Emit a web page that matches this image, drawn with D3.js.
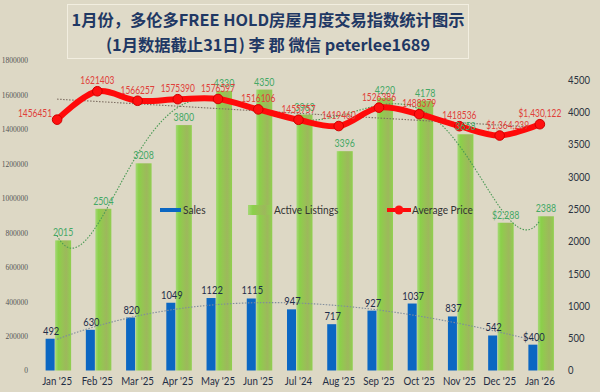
<!DOCTYPE html>
<html><head><meta charset="utf-8">
<script src="https://cdn.jsdelivr.net/npm/d3@7"></script>
<style>
html,body{margin:0;padding:0;background:#ddd8c5;}
svg{display:block;}
</style></head>
<body>
<svg id="chart" width="600" height="392"></svg>
<script>
const categories = ["Jan '25","Feb '25","Mar '25","Apr '25","May '25","Jun '25","Jul '24","Aug '25","Sep '25","Oct '25","Nov '25","Dec '25","Jan '26"];
const sales = [492,630,820,1049,1122,1115,947,717,927,1037,837,542,400];
const salesLabels = ["492","630","820","1049","1122","1115","947","717","927","1037","837","542","$400"];
const listings = [2015,2504,3208,3800,4330,4350,3963,3396,4220,4178,3658,2288,2388];
const listingLabels = ["2015","2504","3208","3800","4330","4350","3963","3396","4220","4178","3658","$2,288","2388"];
const avgPrice = [1456451,1621403,1566257,1575390,1576597,1516106,1455757,1419460,1526386,1488379,1418536,1364239,1430122];
const priceLabels = ["1456451","1621403","1566257","1575390","1576597","1516106","1455757","1419460","1526386","1488379","1418536","$1,364,239","$1,430,122"];
const leftTicks = [0,200000,400000,600000,800000,1000000,1200000,1400000,1600000,1800000];
const rightTicks = [0,500,1000,1500,2000,2500,3000,3500,4000,4500];
const titleLines = ["1月份，多伦多FREE HOLD房屋月度交易指数统计图示","(1月数据截止31日) 李 郡  微信 peterlee1689"];

const svg = d3.select("#chart");
const W = 600, H = 392;
svg.append("rect").attr("width",W).attr("height",H).attr("fill","#ddd8c5");

const defs = svg.append("defs");
const gr = defs.append("linearGradient").attr("id","gbar").attr("x1","0").attr("x2","1").attr("y1","0").attr("y2","0");
[["0%","#a6d878"],["20%","#8bd04a"],["45%","#96c453"],["70%","#9db85c"],["100%","#8fd04e"]].forEach(s=>gr.append("stop").attr("offset",s[0]).attr("stop-color",s[1]));

const x = d3.scaleBand().domain(categories).range([37,560]).padding(0);
const cx = c => x(c) + x.bandwidth()/2;
const yL = d3.scaleLinear().domain([0,1800000]).range([370.5,60.5]);
const yR = d3.scaleLinear().domain([0,4800]).range([370.5,60.5]);

function condense(sel, factor){
  sel.each(function(){
    const w = this.getComputedTextLength();
    d3.select(this).attr("textLength", w*factor).attr("lengthAdjust","spacingAndGlyphs");
  });
}

// Title box
svg.append("rect").attr("x",67.5).attr("y",4.5).attr("width",401).attr("height",54)
  .attr("fill","#dfdac8").attr("stroke","#f2eee0").attr("stroke-width",1);
svg.selectAll("text.title").data(titleLines).join("text").attr("class","title")
  .attr("x",268).attr("y",(d,i)=>26+i*25).attr("text-anchor","middle")
  .attr("font-family","'Noto Sans CJK SC','Noto Sans',sans-serif").attr("font-weight","bold")
  .attr("font-size",16.3).attr("fill","#1f3864").text(d=>d);

const lblFont = "Lato,'Open Sans',sans-serif";

// Axes
const axL = svg.append("g").attr("transform","translate(30,0)")
  .call(d3.axisLeft(yL).tickValues(leftTicks).tickSize(0).tickPadding(2).tickFormat(d3.format("d")));
axL.select(".domain").remove();
axL.selectAll("text").attr("font-family","'Liberation Serif',serif").attr("font-size",7.5).attr("fill","#555");

const axR = svg.append("g").attr("transform","translate(566,0)")
  .call(d3.axisRight(yR).tickValues(rightTicks).tickSize(0).tickPadding(2).tickFormat(d3.format("d")));
axR.select(".domain").remove();
axR.selectAll("text").attr("font-family",lblFont).attr("font-size",10.5).attr("fill","#2b3340");
condense(axR.selectAll("text"), 0.9);

const axB = svg.append("g").attr("transform","translate(0,370.5)")
  .call(d3.axisBottom(x).tickSize(0).tickPadding(7));
axB.select(".domain").remove();
axB.selectAll("text").attr("font-family",lblFont).attr("font-size",11).attr("fill","#1f2d44");
condense(axB.selectAll("text"), 0.88);

// Bars
svg.selectAll("rect.listing").data(categories).join("rect").attr("class","listing")
  .attr("x",c=>cx(c)-2).attr("width",16)
  .attr("y",(c,i)=>yR(listings[i])).attr("height",(c,i)=>yR(0)-yR(listings[i]))
  .attr("fill","url(#gbar)");
svg.selectAll("rect.sales").data(categories).join("rect").attr("class","sales")
  .attr("x",c=>cx(c)-11.5).attr("width",9)
  .attr("y",(c,i)=>yR(sales[i])).attr("height",(c,i)=>yR(0)-yR(sales[i]))
  .attr("fill","#0b67c2");

// Polynomial trendlines (least squares)
function polyfit(ys, order){
  const n = ys.length, mid=(n-1)/2, sc=mid;
  const ts = ys.map((_,i)=>(i-mid)/sc);
  const m = order+1;
  const A = Array.from({length:m},()=>new Array(m+1).fill(0));
  for(let k=0;k<n;k++){
    for(let r=0;r<m;r++){
      for(let c=0;c<m;c++) A[r][c]+=Math.pow(ts[k],r+c);
      A[r][m]+=ys[k]*Math.pow(ts[k],r);
    }
  }
  for(let i=0;i<m;i++){
    let p=i; for(let r=i+1;r<m;r++) if(Math.abs(A[r][i])>Math.abs(A[p][i])) p=r;
    [A[i],A[p]]=[A[p],A[i]];
    for(let r=0;r<m;r++){ if(r===i) continue; const f=A[r][i]/A[i][i]; for(let c=i;c<=m;c++) A[r][c]-=f*A[i][c]; }
  }
  const coef = A.map((row,i)=>row[m]/row[i]);
  return idx => { const t=(idx-mid)/sc; return coef.reduce((s,a,j)=>s+a*Math.pow(t,j),0); };
}
function trend(ys, order, yScale, color, dash){
  const f = polyfit(ys, order);
  const pts = d3.range(0, ys.length-1+1e-9, 0.05).map(i=>[cx(categories[0]) + i*x.step(), yScale(f(i))]);
  svg.append("path").attr("d",d3.line()(pts)).attr("fill","none")
    .attr("stroke",color).attr("stroke-width",1.1).attr("stroke-dasharray",dash);
}
trend(listings, 6, yR, "#4a9a55", "1.5,1.5");
trend(sales, 3, yR, "#7f8c9c", "1.5,1.5");
trend(avgPrice, 1, yL, "#7d6e62", "1.5,1.5");

// Price line
const line = d3.line().x((d,i)=>cx(categories[i])).y(d=>yL(d)).curve(d3.curveCatmullRom.alpha(0.5));
svg.append("path").datum(avgPrice).attr("d",line).attr("fill","none")
  .attr("stroke","#ff0a0a").attr("stroke-width",6).attr("stroke-linejoin","round").attr("stroke-linecap","round");
svg.selectAll("circle.pt").data(avgPrice).join("circle").attr("class","pt")
  .attr("cx",(d,i)=>cx(categories[i])).attr("cy",d=>yL(d)).attr("r",4.8)
  .attr("fill","#ff1010").attr("stroke","#d00000").attr("stroke-width",1);

// Labels
const sl = svg.selectAll("text.sl").data(salesLabels).join("text").attr("class","sl")
  .attr("x",(d,i)=>cx(categories[i])-6).attr("y",(d,i)=>yR(sales[i])-4)
  .attr("text-anchor","middle").attr("font-family",lblFont).attr("font-size",11).attr("fill","#1f2d4a").text(d=>d);
condense(sl, 0.85);
const ll = svg.selectAll("text.ll").data(listingLabels).join("text").attr("class","ll")
  .attr("x",(d,i)=>cx(categories[i])+6).attr("y",(d,i)=>yR(listings[i])-4)
  .attr("text-anchor","middle").attr("font-family",lblFont).attr("font-size",11).attr("fill","#45a866").text(d=>d);
condense(ll, 0.8);
const pl = svg.selectAll("text.pl").data(priceLabels).join("text").attr("class","pl")
  .attr("x",(d,i)=> i===0 ? cx(categories[i])-5 : cx(categories[i]) + (i===11?8:0))
  .attr("y",(d,i)=> i===0 ? yL(avgPrice[i])-3 : yL(avgPrice[i])-7)
  .attr("text-anchor",(d,i)=> i===0 ? "end" : "middle")
  .attr("font-family",lblFont).attr("font-size",10.5).attr("fill","#e0403a").text(d=>d);
condense(pl, 0.8);

// Legend
const lg = svg.append("g").attr("font-family",lblFont).attr("font-size",11.5).attr("fill","#333");
lg.append("rect").attr("x",160).attr("y",208).attr("width",21).attr("height",4).attr("fill","#0b67c2");
lg.append("text").attr("x",183).attr("y",214).text("Sales");
lg.append("rect").attr("x",248).attr("y",205).attr("width",24).attr("height",10).attr("fill","url(#gbar)");
lg.append("text").attr("x",274).attr("y",214).text("Active Listings");
lg.append("line").attr("x1",387).attr("x2",411).attr("y1",210).attr("y2",210).attr("stroke","#ff0a0a").attr("stroke-width",4);
lg.append("circle").attr("cx",399).attr("cy",210).attr("r",4.5).attr("fill","#ff1010");
lg.append("text").attr("x",412).attr("y",214).text("Average Price");
condense(lg.selectAll("text"), 0.88);
</script>
</body></html>
